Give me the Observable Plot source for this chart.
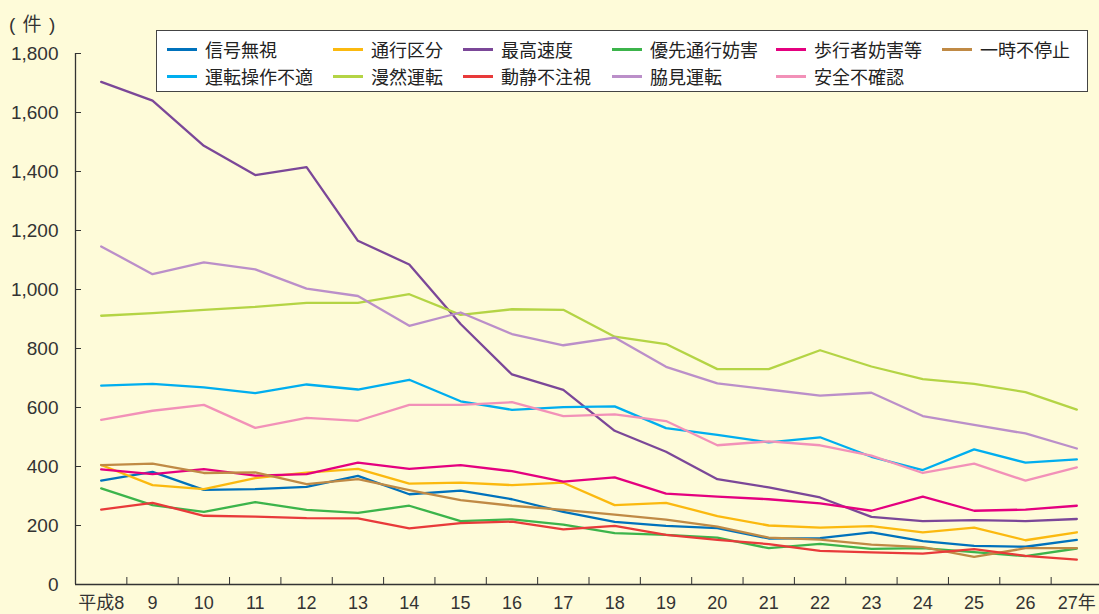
<!DOCTYPE html>
<html>
<head>
<meta charset="utf-8">
<script src="https://cdn.jsdelivr.net/npm/d3@7"></script>
<script src="https://cdn.jsdelivr.net/npm/@observablehq/plot@0.6"></script>
<style>
  html, body { margin: 0; padding: 0; background: #fefbd9; }
  #wrap { position: relative; width: 1099px; height: 614px; background: #fefbd9; overflow: hidden;
          font-family: "Liberation Sans", "Noto Sans CJK JP", sans-serif; color: #333; }
  #wrap svg { position: absolute; left: 0; top: 0; }
  #unit { position: absolute; left: 9px; top: 13px; font-size: 19px; line-height: 24px; letter-spacing: 1px;
          font-family: "Liberation Sans", "Noto Sans CJK JP", sans-serif; color: #333; z-index: 2; white-space: pre; }
  #legend { position: absolute; left: 156px; top: 30px; width: 930px; height: 60px; border: 1px solid #444;
            background: #fff; z-index: 2; font-family: "Noto Sans CJK JP", sans-serif; font-size: 18px; color: #222; }
  .item { position: absolute; display: flex; align-items: center; height: 24px; white-space: nowrap; }
  .sw { width: 30px; height: 3px; margin-right: 8px; }
</style>
</head>
<body>
<div id="wrap">
  <div id="unit">( 件 )</div>
  <div id="legend"></div>
</div>
<script>
// ---- data ----
const years = [8, 9, 10, 11, 12, 13, 14, 15, 16, 17, 18, 19, 20, 21, 22, 23, 24, 25, 26, 27];
const yearLabels = ["平成8", "9", "10", "11", "12", "13", "14", "15", "16", "17", "18", "19", "20", "21", "22", "23", "24", "25", "26", "27年"];
const yTicks = [0, 200, 400, 600, 800, 1000, 1200, 1400, 1600, 1800];

const seriesNames = ["信号無視", "通行区分", "最高速度", "優先通行妨害", "歩行者妨害等", "一時不停止",
                     "運転操作不適", "漫然運転", "動静不注視", "脇見運転", "安全不確認"];
const seriesColors = ["#0072bc", "#fbb90f", "#7b4798", "#3cb44b", "#e4007f", "#c08a45",
                      "#00aeef", "#b4d445", "#e83a3a", "#bb8fc9", "#f291b8"];

const shingoMushi   = [352, 382, 321, 323, 331, 368, 306, 318, 289, 246, 212, 199, 191, 156, 157, 177, 147, 131, 128, 151];
const tsukoKubun    = [405, 337, 323, 361, 379, 392, 342, 345, 337, 345, 269, 277, 232, 200, 193, 198, 177, 193, 150, 177];
const saikoSokudo   = [1704, 1640, 1487, 1388, 1415, 1165, 1085, 883, 712, 660, 521, 450, 357, 329, 295, 229, 215, 218, 215, 222];
const yusenBogai    = [326, 269, 246, 279, 253, 243, 267, 215, 221, 203, 174, 168, 159, 123, 138, 121, 123, 110, 96, 122];
const hokoshaBogai  = [390, 374, 391, 369, 374, 413, 392, 405, 384, 349, 363, 308, 298, 289, 275, 250, 298, 250, 254, 267];
const ichijiFuteishi= [405, 410, 378, 380, 340, 357, 320, 286, 267, 253, 237, 220, 196, 159, 152, 135, 127, 94, 123, 123];
const soshaFuteki   = [674, 680, 668, 649, 678, 661, 694, 621, 592, 601, 604, 530, 507, 482, 499, 433, 388, 458, 413, 424];
const manzenUnten   = [911, 920, 931, 941, 955, 955, 984, 914, 933, 931, 840, 815, 730, 730, 794, 739, 696, 680, 652, 593];
const doseiFuchushi = [254, 277, 233, 230, 225, 224, 190, 208, 213, 187, 199, 168, 151, 137, 114, 109, 105, 120, 97, 84];
const wakimiUnten   = [1146, 1052, 1092, 1068, 1003, 978, 877, 922, 849, 811, 837, 738, 682, 661, 640, 650, 571, 541, 512, 461];
const anzenFukakunin= [558, 589, 609, 531, 565, 555, 609, 609, 618, 571, 577, 554, 472, 485, 472, 437, 378, 410, 352, 397];

const seriesValues = [shingoMushi, tsukoKubun, saikoSokudo, yusenBogai, hokoshaBogai, ichijiFuteishi,
                      soshaFuteki, manzenUnten, doseiFuchushi, wakimiUnten, anzenFukakunin];

// ---- table ----
const rows = [];
seriesNames.forEach((name, s) => {
  years.forEach((yr, i) => rows.push({series: name, year: yr, value: seriesValues[s][i]}));
});
const xDomain = [years[0] - 0.5, years[years.length - 1] + 0.5];
const tickPos = years.slice(0, -1).map(y => y + 0.5);
const yDomain = [yTicks[0], yTicks[yTicks.length - 1]];
const axisColor = "#333";

const chart = Plot.plot({
  width: 1099,
  height: 614,
  marginTop: 53,
  marginBottom: 30,
  marginLeft: 75,
  marginRight: 0,
  style: {background: "transparent", fontSize: "19px", fontFamily: "'Liberation Sans', 'Noto Sans CJK JP', sans-serif", color: axisColor, overflow: "visible"},
  x: {domain: xDomain, range: [75, 1102]},
  y: {domain: yDomain},
  color: {domain: seriesNames, range: seriesColors},
  marks: [
    Plot.axisY({ticks: yTicks, tickSize: 0, tickPadding: 17, tickFormat: d3.format(","), label: null, fill: axisColor}),
    Plot.axisY({ticks: yTicks, tickSize: 6, dx: 6, fill: "none", label: null, stroke: axisColor}),
    Plot.axisX({ticks: years, tickSize: 0, tickPadding: 12, fontSize: 18, tickFormat: d => yearLabels[years.indexOf(d)], label: null, fill: axisColor}),
    Plot.axisX({ticks: tickPos, tickSize: 7, dy: -7, fill: "none", label: null, stroke: axisColor}),
    Plot.ruleX([xDomain[0]], {y1: yDomain[0], y2: yDomain[1], stroke: axisColor, strokeWidth: 1.3}),
    Plot.ruleY([yDomain[0]], {stroke: axisColor, strokeWidth: 1.3}),
    Plot.lineY(rows, {x: "year", y: "value", z: "series", stroke: "series", strokeWidth: 2.3})
  ]
});
document.getElementById("wrap").appendChild(chart);

// ---- legend ----
const legend = document.getElementById("legend");
const colX = [10, 176, 306, 455, 619, 785];
seriesNames.forEach((name, i) => {
  const row = Math.floor(i / 6), col = i % 6;
  const it = document.createElement("div");
  it.className = "item";
  it.style.left = colX[col] + "px";
  it.style.top = (row === 0 ? 6 : 33) + "px";
  const sw = document.createElement("span");
  sw.className = "sw";
  sw.style.background = seriesColors[i];
  const tx = document.createElement("span");
  tx.textContent = name;
  it.appendChild(sw);
  it.appendChild(tx);
  legend.appendChild(it);
});
</script>
</body>
</html>
